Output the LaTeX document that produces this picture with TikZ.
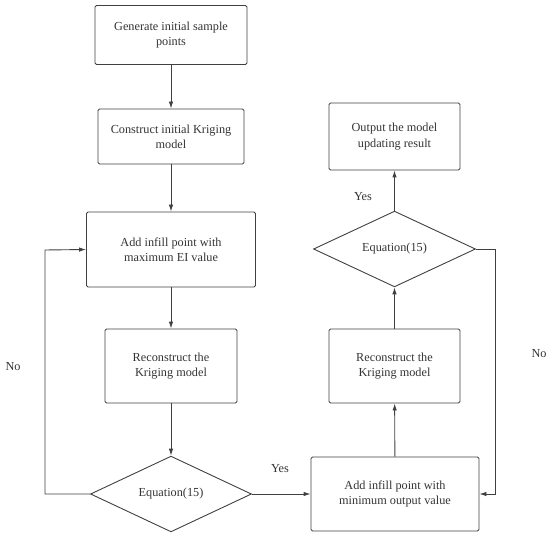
\documentclass[tikz,border=0pt]{standalone}
\usepackage{fontspec}
\setmainfont{Liberation Serif}
\usetikzlibrary{shapes.geometric,arrows.meta}
\definecolor{ln}{HTML}{404040}
\definecolor{tx}{HTML}{333333}
\tikzset{
  procbox/.style={draw=ln, line width=0.9bp, rounded corners=1.5bp, rectangle, inner sep=2bp, align=center, text=tx, font=\fontsize{12.3}{15.3}\selectfont},
  decbox/.style={draw=ln, line width=0.9bp, diamond, inner sep=0pt, align=center, text=tx, font=\fontsize{12.3}{15.3}\selectfont},
  conn/.style={draw=ln, line width=0.9bp, -{Latex[length=7bp,width=4.5bp]}},
  lbl/.style={text=tx, font=\fontsize{12.3}{15.3}\selectfont},
}
\begin{document}
\begin{tikzpicture}[x=1bp,y=-1bp]
\useasboundingbox (0,0) rectangle (550,535);
\node[procbox, minimum width=152bp, minimum height=59bp] (b1) at (171,35) {Generate initial sample\\points};
\node[procbox, minimum width=146bp, minimum height=55bp] (b2) at (171,136.5) {Construct initial Kriging\\model};
\node[procbox, minimum width=169bp, minimum height=75bp] (b3) at (171,249.5) {Add infill point with\\maximum EI value};
\node[procbox, minimum width=132bp, minimum height=74bp] (b4) at (171,366) {Reconstruct the\\Kriging model};
\node[decbox, minimum width=161bp, minimum height=72bp] (d1) at (171,494) {Equation(15)};
\node[procbox, minimum width=168bp, minimum height=74bp] (b6) at (395,494) {Add infill point with\\minimum output value};
\node[procbox, minimum width=131bp, minimum height=74bp] (b7) at (394.5,366) {Reconstruct the\\Kriging model};
\node[decbox, minimum width=162bp, minimum height=71bp] (d2) at (394.5,249) {Equation(15)};
\node[procbox, minimum width=131bp, minimum height=67bp] (b9) at (394.5,136.5) {Output the model\\updating result};

\coordinate (c1) at (45,494);
\coordinate (c2) at (45,250);
\coordinate (c3) at (495,249);
\coordinate (c4) at (495,494);

\draw[conn] (b1) -- (b2);
\draw[conn] (b2) -- (b3);
\draw[conn] (b3) -- (b4);
\draw[conn] (b4) -- (d1);
\draw[conn] (d1.west) -- (c1) -- (c2) -- (b3.west);
\draw[conn] (d1.east) -- (b6.west);
\draw[conn] (b6) -- (b7);
\draw[conn] (b7) -- (d2);
\draw[conn] (d2) -- (b9);
\draw[conn] (d2.east) -- (c3) -- (c4) -- (b6.east);

\node[lbl] (n1) at (13,367) {No};
\node[lbl] (y1) at (280,469) {Yes};
\node[lbl] (y2) at (363,197) {Yes};
\node[lbl] (n2) at (539,354) {No};
\end{tikzpicture}
\end{document}
